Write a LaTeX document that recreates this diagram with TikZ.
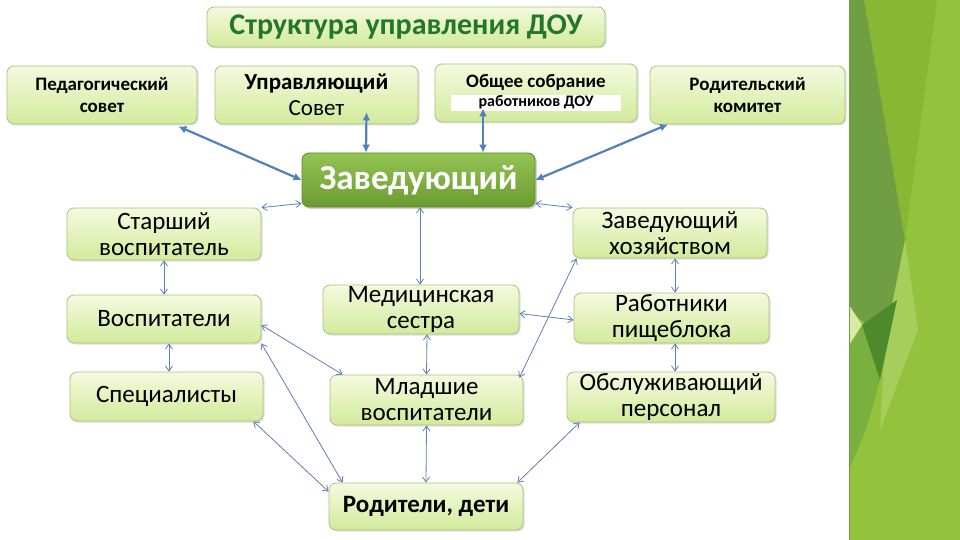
\documentclass[tikz,border=0pt]{standalone}
\usepackage{fontspec}
\setmainfont{Carlito}
\usepackage{xcolor}
\usepackage{tikz}
\usetikzlibrary{arrows.meta, positioning, shadows}

\definecolor{boxtop}{HTML}{F4FADF}
\definecolor{boxbot}{HTML}{D3EA9C}
\definecolor{boxline}{HTML}{A9C47E}
\definecolor{headtop}{HTML}{93C353}
\definecolor{headbot}{HTML}{6C9C31}
\definecolor{headline}{HTML}{5E8B2B}
\definecolor{titlegreen}{HTML}{23772B}
\definecolor{linkblue}{HTML}{4F81BD}
\definecolor{thinblue}{HTML}{5F80B4}
\definecolor{barbase}{HTML}{93C23C}
\definecolor{bardark}{HTML}{6F9F42}
\definecolor{barmid}{HTML}{88B833}
\definecolor{bardeep}{HTML}{4E8A2C}
\definecolor{barpale}{HTML}{D8E9A8}
\definecolor{barlow}{HTML}{7AB040}
\definecolor{barsheen}{HTML}{A6CE5C}

\tikzset{
  orgbox/.style={
    draw=boxline, rounded corners=7pt, line width=0.8pt, align=center,
    top color=boxtop, bottom color=boxbot, inner sep=0pt,
    drop shadow={shadow xshift=1.5pt, shadow yshift=-1.5pt, opacity=0.25}
  },
  headbox/.style={
    draw=headline, rounded corners=7pt, line width=0.8pt, align=center,
    top color=headtop, bottom color=headbot, text=white, inner sep=0pt,
    font=\fontsize{35}{37}\selectfont\bfseries,
    drop shadow={shadow xshift=2pt, shadow yshift=-2pt, opacity=0.35}
  },
  councilfont/.style={font=\fontsize{19}{22}\selectfont\bfseries},
  stafffont/.style={font=\fontsize{25}{26}\selectfont},
  mainlink/.style={
    {Latex[length=8pt,width=8pt]}-{Latex[length=8pt,width=8pt]},
    line width=2.2pt, linkblue
  },
  sublink/.style={
    {Straight Barb[length=5pt,width=7pt]}-{Straight Barb[length=5pt,width=7pt]},
    line width=0.8pt, thinblue
  },
}

\begin{document}
\begin{tikzpicture}[x=1pt, y=-1pt]
  \useasboundingbox (0,0) rectangle (960,540);
  \fill[white] (0,0) rectangle (960,540);

  % ── Side decoration ────────────────────────────────────────────
  \fill[barbase] (849,0) rectangle (960,540);
  \fill[barmid] (864,0) -- (937,0) -- (905,240) -- cycle;
  \fill[bardark] (849,0) -- (864,0) -- (905,240) -- (885,340) -- (849,310) -- cycle;
  \fill[barsheen] (905,240) -- (918,330) -- (880,430) -- (885,340) -- cycle;
  \fill[barlow] (849,345) -- (862,325) -- (880,380) -- (866,430) -- (849,470) -- cycle;
  \fill[bardeep] (862,325) -- (897,300) -- (880,380) -- cycle;
  \fill[barpale] (849,305) -- (862,325) -- (849,345) -- cycle;
  \draw[bardark, line width=1pt] (849.5,0) -- (849.5,540);

  % ── Title ──────────────────────────────────────────────────────
  \node[orgbox, minimum width=398pt, minimum height=40pt,
        font=\fontsize{30}{32}\selectfont\bfseries, text=titlegreen]
    (title) at (406,27) {Структура управления ДОУ};

  % ── Councils ───────────────────────────────────────────────────
  \node[orgbox, councilfont, minimum width=190pt, minimum height=58pt]
    (ped) at (102,95) {Педагогический\\совет};
  \node[orgbox, minimum width=203pt, minimum height=58pt,
        font=\fontsize{23}{26}\selectfont]
    (upr) at (316.5,95) {\textbf{Управляющий}\\Совет};
  \node[orgbox, councilfont, minimum width=202pt, minimum height=58pt]
    (obs) at (536,93)
    {Общее собрание\\[-3pt]{\setlength{\fboxsep}{0pt}\colorbox{white}{%
      \makebox[170pt]{\fontsize{16}{16}\selectfont\strut работников ДОУ}}}};
  \node[orgbox, councilfont, minimum width=195pt, minimum height=58pt]
    (rod) at (747.5,95) {Родительский\\комитет};

  % ── Head ───────────────────────────────────────────────────────
  \node[headbox, minimum width=233pt, minimum height=54pt]
    (zav) at (418.5,180) {Заведующий};

  % ── Staff ──────────────────────────────────────────────────────
  \node[orgbox, stafffont, minimum width=194pt, minimum height=52pt]
    (star) at (164,234) {Старший\\воспитатель};
  \node[orgbox, stafffont, minimum width=194pt, minimum height=48pt]
    (vosp) at (164,319) {Воспитатели};
  \node[orgbox, stafffont, minimum width=193pt, minimum height=49pt]
    (spec) at (166.5,396.5) {Специалисты};
  \node[orgbox, stafffont, minimum width=196pt, minimum height=49pt]
    (med) at (421,309.5) {Медицинская\\сестра};
  \node[orgbox, stafffont, minimum width=193pt, minimum height=50pt]
    (mlad) at (426.5,400) {Младшие\\воспитатели};
  \node[orgbox, stafffont, minimum width=194pt, minimum height=50pt]
    (zhoz) at (670,233) {Заведующий\\хозяйством};
  \node[orgbox, stafffont, minimum width=195pt, minimum height=50pt]
    (rab) at (671.5,318) {Работники\\пищеблока};
  \node[orgbox, stafffont, minimum width=208pt, minimum height=50pt]
    (obsl) at (671,397) {Обслуживающий\\персонал};
  \node[orgbox, minimum width=194pt, minimum height=47pt,
        font=\fontsize{25}{26}\selectfont\bfseries]
    (rodit) at (426,506.5) {Родители, дети};

  % ── Links to the head ──────────────────────────────────────────
  \draw[mainlink] ([xshift=-19pt,yshift=-2pt]ped.south east) -- (zav.west);
  \draw[mainlink] ([xshift=50pt,yshift=12pt]upr.south) -- ([xshift=-52.5pt]zav.north);
  \draw[mainlink] ([xshift=-53pt,yshift=14pt]obs.south) -- ([xshift=64.5pt]zav.north);
  \draw[mainlink] ([xshift=-79.5pt]rod.south) -- (zav.east);

  \draw[sublink] ([yshift=4pt]zav.south west) -- (star.north east);
  \draw[sublink] ([xshift=1.5pt]zav.south) -- ([xshift=-1pt]med.north);
  \draw[sublink] ([yshift=4pt]zav.south east) -- (zhoz.north west);

  % ── Links between staff ────────────────────────────────────────
  \draw[sublink] (star.south) -- (vosp.north);
  \draw[sublink] ([xshift=5pt]vosp.south) -- ([xshift=2.5pt]spec.north);
  \draw[sublink] ([yshift=-6pt]vosp.east) -- ([xshift=13pt]mlad.north west);
  \draw[sublink] (vosp.south east) -- ([xshift=14pt]rodit.north west);
  \draw[sublink] ([xshift=-10pt]spec.south east) -- ([yshift=-9pt]rodit.north west);
  \draw[sublink] ([xshift=6pt]med.south) -- (mlad.north);
  \draw[sublink] ([yshift=-4pt]med.east) -- ([yshift=-2pt]rab.west);
  \draw[sublink] ([xshift=-4pt,yshift=-3pt]mlad.north east) -- ([xshift=4pt]zhoz.south west);
  \draw[sublink] (mlad.south) -- (rodit.north);
  \draw[sublink] ([xshift=13pt]obsl.south west) -- ([xshift=-6pt]rodit.north east);
  \draw[sublink] ([xshift=5pt]zhoz.south) -- ([xshift=3.5pt]rab.north);
  \draw[sublink] ([xshift=3.5pt]rab.south) -- ([xshift=4pt]obsl.north);
\end{tikzpicture}
\end{document}
